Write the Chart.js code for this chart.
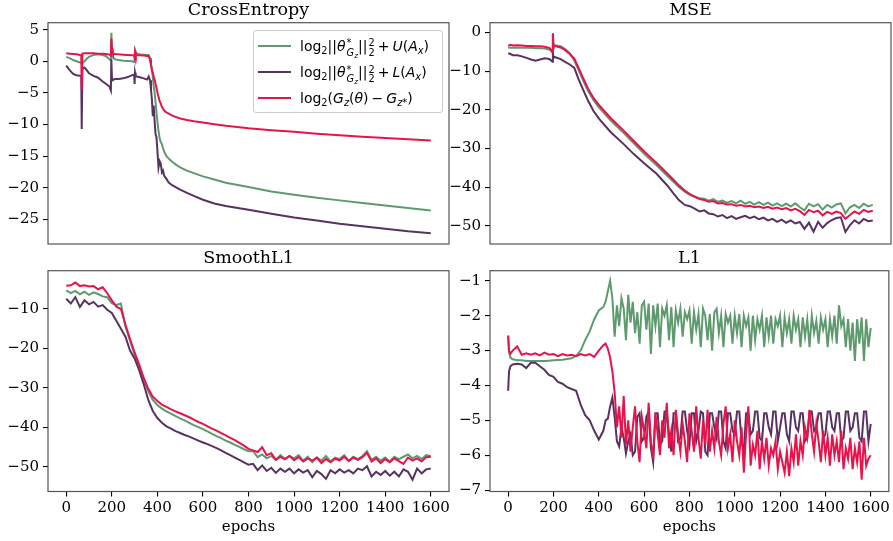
<!DOCTYPE html>
<html><head><meta charset="utf-8">
<script src="https://cdn.jsdelivr.net/npm/chart.js@4.4.1/dist/chart.umd.min.js"></script>
<style>
html,body{margin:0;padding:0;background:#fff;}
#wrap{position:relative;width:893px;height:541px;overflow:hidden;background:#fff;}
#wrap canvas{position:absolute;left:0;top:0;}
#legend{position:absolute;left:253px;top:30px;width:188px;height:81px;border:1px solid #cccccc;border-radius:3px;background:rgba(255,255,255,0.85);}
.row{position:absolute;left:0;height:20px;white-space:nowrap;}
.sw{position:absolute;left:4px;top:9px;width:33px;height:2px;}
.tx{position:absolute;left:46px;top:0;font-family:"DejaVu Sans";font-size:14px;line-height:20px;color:#000;}
.tx sub{font-size:70%;vertical-align:-0.3em;line-height:0;}
.ss{display:inline-block;vertical-align:-0.5em;font-size:70%;line-height:1;margin-left:1px;}
.ss>span{display:block;height:0.95em;}
.ss sub{font-size:75%;}
.op{margin:0 3px;}
</style>
</head><body>
<div id="wrap">
<canvas id="cCE" width="893" height="541"></canvas>
<canvas id="cMSE" width="893" height="541"></canvas>
<canvas id="cSL1" width="893" height="541"></canvas>
<canvas id="cL1" width="893" height="541"></canvas>
<div id="legend"></div>
</div>
<script>
// ---------- data ----------
const seriesNames = ['log2||θ*_Gz||²_2 + U(A_x)', 'log2||θ*_Gz||²_2 + L(A_x)', 'log2(G_z(θ) − G_z*)'];
const legendLabels = [
  'log<sub>2</sub>||<i>θ</i><span class="ss"><span>*</span><span><i>G<sub>z</sub></i></span></span>||<span class="ss"><span>2</span><span>2</span></span><span class="op">+</span><i>U</i>(<i>A<sub>x</sub></i>)',
  'log<sub>2</sub>||<i>θ</i><span class="ss"><span>*</span><span><i>G<sub>z</sub></i></span></span>||<span class="ss"><span>2</span><span>2</span></span><span class="op">+</span><i>L</i>(<i>A<sub>x</sub></i>)',
  'log<sub>2</sub>(<i>G<sub>z</sub></i>(<i>θ</i>)<span class="op">−</span><i>G<sub>z*</sub></i>)'
];
const seriesColors = ['#5e9a6e', '#583263', '#e8134a'];
const titles = ['CrossEntropy', 'MSE', 'SmoothL1', 'L1'];
const xTicks = [0, 200, 400, 600, 800, 1000, 1200, 1400, 1600];
const ceTicks = [5, 0, -5, -10, -15, -20, -25];
const mseTicks = [0, -10, -20, -30, -40, -50];
const sl1Ticks = [-10, -20, -30, -40, -50];
const l1Ticks = [-1, -2, -3, -4, -5, -6, -7];

const ceEpochs = [0,15,30,45,60,66,68,71,80,90,100,120,140,160,175,190,196,198,201,205,215,230,250,270,290,298,300,302,305,320,340,355,362,368,372,376,380,384,388,392,396,400,405,410,415,420,425,430,440,450,465,480,500,530,560,600,650,700,800,900,1000,1100,1200,1300,1400,1500,1600];
const ceU = [0.7,0.5,0.2,0.0,-0.2,-0.25,-0.3,-0.3,0.0,0.4,0.7,1.0,1.1,1.0,0.8,0.3,0.1,4.5,2.0,0.6,0.3,0.2,0.1,0.05,0.0,-0.1,0.6,1.7,1.3,1.1,1.05,1.0,1.0,0.5,-0.3,-1.2,-2.5,-4.0,-5.0,-6.5,-8.0,-9.5,-11.0,-12.2,-12.8,-13.1,-13.8,-14.3,-15.0,-15.4,-15.9,-16.3,-16.8,-17.3,-17.7,-18.2,-18.7,-19.2,-19.9,-20.6,-21.1,-21.6,-22.0,-22.4,-22.8,-23.2,-23.6];
const ceL = [-0.7,-1.4,-2.0,-2.2,-2.3,-2.3,-10.7,-1.2,-1.0,-1.4,-1.9,-2.3,-2.6,-3.2,-3.6,-4.0,-4.6,0.3,-3.0,-2.9,-2.8,-2.8,-2.7,-2.5,-2.2,-2.1,-3.6,-1.8,-2.4,-2.5,-2.7,-2.9,-2.4,-3.0,-4.5,-6.0,-8.7,-7.0,-9.5,-11.5,-12.0,-14.0,-16.8,-15.8,-16.2,-17.6,-17.3,-18.1,-18.6,-19.2,-19.6,-19.9,-20.3,-20.8,-21.3,-21.9,-22.5,-22.9,-23.5,-24.1,-24.7,-25.2,-25.7,-26.1,-26.5,-26.9,-27.2];
const ceG = [1.25,1.2,1.15,1.1,1.0,0.9,-4.5,1.2,1.25,1.25,1.25,1.25,1.2,1.2,1.15,1.05,0.9,3.6,1.6,1.2,1.15,1.1,1.05,1.0,0.95,0.9,0.6,1.5,1.0,0.95,0.9,0.85,0.8,0.2,-0.6,-1.4,-1.8,-2.4,-2.9,-3.6,-4.2,-4.9,-5.6,-6.3,-6.7,-7.2,-7.5,-7.8,-8.1,-8.3,-8.6,-8.8,-9.05,-9.3,-9.5,-9.7,-9.95,-10.2,-10.6,-10.9,-11.15,-11.45,-11.7,-11.95,-12.15,-12.35,-12.55];

const mseEpochs = [0,10,20,40,60,80,100,120,140,160,180,190,194,196,198,200,210,230,250,270,290,310,330,350,375,400,450,500,550,600,650,700,725,750,775,800,
  820,840,860,880,900,920,940,960,980,1000,1020,1040,1060,1080,1100,1120,1140,1160,1180,1200,1220,1240,1260,1280,1300,1320,1340,1360,1380,1400,1420,1440,1460,1480,1500,1520,1540,1560,1580,1600];
const mseU = [-3.9,-4.0,-4.0,-4.0,-4.0,-4.0,-4.0,-4.1,-4.1,-4.2,-4.4,-4.9,-5.2,-0.5,-3.0,-3.3,-3.4,-3.6,-4.3,-5.4,-7.3,-9.9,-12.6,-15.1,-17.6,-19.5,-22.8,-25.6,-28.6,-31.6,-34.3,-37.2,-38.6,-40.0,-41.2,-42.1,
  -42.4,-42.9,-43.0,-43.5,-43.1,-43.8,-43.5,-44.0,-43.6,-44.2,-43.5,-44.3,-43.8,-44.5,-43.9,-44.6,-44.0,-44.8,-44.2,-44.9,-44.3,-45.0,-44.2,-45.2,-46.0,-44.3,-45.0,-44.4,-45.8,-44.6,-45.3,-44.5,-44.2,-46.8,-45.2,-44.6,-45.4,-44.3,-45.0,-44.6];
const mseL = [-5.4,-5.6,-5.9,-5.9,-6.2,-6.6,-7.0,-7.3,-7.0,-6.7,-6.9,-7.3,-7.6,-5.2,-6.2,-6.3,-6.5,-6.9,-7.6,-8.3,-9.2,-12.3,-15.0,-17.6,-20.4,-22.4,-25.8,-28.5,-31.4,-34.0,-36.5,-39.7,-41.6,-43.4,-44.6,-45.0,
  -45.6,-46.3,-46.0,-46.8,-47.0,-47.6,-47.2,-48.0,-47.5,-48.2,-47.8,-47.4,-48.0,-47.6,-48.3,-47.9,-48.6,-48.2,-49.0,-48.4,-49.2,-48.6,-49.4,-49.0,-50.8,-49.2,-51.5,-49.0,-50.5,-49.3,-48.5,-48.0,-47.8,-51.6,-49.8,-48.6,-49.4,-48.2,-48.8,-48.6];
const mseG = [-3.5,-3.2,-3.4,-3.3,-3.4,-3.5,-3.5,-3.6,-3.6,-3.7,-4.0,-4.6,-5.0,-0.2,-3.0,-3.6,-3.6,-3.9,-4.6,-5.6,-6.8,-9.3,-12.0,-14.5,-17.0,-18.9,-22.2,-25.0,-28.0,-31.0,-33.7,-36.6,-38.1,-39.6,-40.9,-41.9,
  -42.6,-43.1,-43.3,-43.8,-43.6,-44.2,-44.1,-44.5,-44.4,-44.8,-44.6,-45.0,-44.8,-45.2,-45.0,-45.4,-45.1,-45.6,-45.3,-45.7,-45.4,-46.0,-45.6,-46.2,-47.2,-45.9,-46.5,-46.1,-47.3,-46.4,-46.9,-46.3,-46.7,-48.2,-47.2,-46.3,-46.9,-45.9,-46.4,-46.1];

const sl1Epochs = [0,20,40,60,80,100,120,140,160,180,200,220,240,260,280,300,320,340,360,380,400,420,440,460,480,500,520,540,560,580,600,620,640,660,680,700,720,740,760,780,800,820,840,860,880,900,920,940,960,980,1000,1020,1040,1060,1080,1100,1120,1140,1160,1180,1200,1220,1240,1260,1280,1300,1320,1340,1360,1380,1400,1420,1440,1460,1480,1500,1520,1540,1560,1580,1600];
const sl1U = [-5.3,-6.0,-5.4,-6.3,-5.6,-6.4,-5.8,-6.2,-6.8,-7.0,
  -8.5,-9.0,-8.6,-14.5,-18.0,-21.5,-24.6,-27.8,-30.8,-33.0,
  -34.3,-35.2,-35.9,-36.5,-37.1,-37.7,-38.2,-38.8,-39.4,-39.9,
  -40.4,-41.0,-41.6,-42.2,-42.7,-43.3,-43.8,-44.4,-44.9,-45.5,
  -46.0,-46.0,-47.5,-46.8,-47.8,-47.2,-48.2,-47.0,-48.0,-47.2,
  -47.8,-47.0,-48.4,-47.4,-48.8,-47.6,-48.4,-47.2,-48.6,-47.6,
  -48.0,-47.0,-48.4,-47.4,-48.0,-47.2,-46.0,-48.2,-47.4,-48.4,
  -47.6,-48.6,-47.4,-48.0,-47.4,-46.8,-47.8,-47.2,-48.0,-47.0,
  -47.2];
const sl1L = [-7.4,-8.6,-7.0,-9.5,-7.8,-8.8,-8.2,-9.4,-9.0,-10.2,
  -11.0,-13.0,-15.0,-17.0,-20.5,-22.5,-25.5,-29.0,-33.0,-35.8,
  -37.6,-38.8,-39.7,-40.3,-40.9,-41.4,-41.9,-42.3,-42.8,-43.3,
  -43.8,-44.2,-44.7,-45.2,-45.8,-46.4,-47.0,-47.6,-48.2,-48.8,
  -49.4,-49.2,-50.8,-49.6,-51.0,-50.2,-51.5,-50.4,-51.2,-50.4,
  -51.6,-50.6,-51.4,-50.8,-52.6,-51.0,-51.8,-53.0,-50.8,-51.6,
  -50.6,-51.4,-50.8,-51.6,-50.4,-50.8,-49.8,-52.4,-51.2,-52.0,
  -51.0,-52.2,-51.2,-52.4,-50.6,-51.2,-53.2,-50.4,-51.6,-50.6,
  -50.4];
const sl1G = [-4.1,-4.0,-3.3,-4.2,-4.0,-4.3,-4.2,-5.0,-4.5,-6.0,
  -7.8,-9.4,-10.0,-14.0,-17.6,-21.0,-24.0,-27.4,-30.2,-32.2,
  -33.3,-34.2,-34.8,-35.4,-35.9,-36.4,-36.9,-37.4,-38.0,-38.6,
  -39.1,-39.7,-40.3,-40.8,-41.4,-42.0,-42.6,-43.2,-43.9,-44.6,
  -45.4,-45.8,-46.2,-45.0,-47.0,-46.5,-48.2,-47.4,-48.0,-47.2,
  -48.3,-47.5,-48.6,-47.8,-48.4,-47.6,-49.0,-48.0,-48.8,-47.9,
  -48.3,-47.4,-48.5,-47.6,-48.2,-47.5,-46.4,-48.6,-47.8,-49.0,
  -48.0,-48.8,-47.8,-48.5,-49.2,-47.6,-48.4,-47.8,-48.6,-47.5,
  -47.4];

const l1Epochs = [0,4,10,20,40,60,80,100,120,140,160,180,200,220,240,260,280,300,320,340,360,380,400,420,
  430,440,450,460,470,480,490,500,510,520,530,540,550,560,570,580,590,600,610,620,630,640,650,660,670,680,690,700,710,720,
  730,740,750,760,770,780,790,800,810,820,830,840,850,860,870,880,890,900,910,920,930,940,950,960,970,980,990,1000,1010,1020,
  1030,1040,1050,1060,1070,1080,1090,1100,1110,1120,1130,1140,1150,1160,1170,1180,1190,1200,1210,1220,1230,1240,1250,1260,1270,1280,1290,1300,1310,1320,
  1330,1340,1350,1360,1370,1380,1390,1400,1410,1420,1430,1440,1450,1460,1470,1480,1490,1500,1510,1520,1530,1540,1550,1560,1570,1580,1590,1600];
const l1U = [-2.57,-3.05,-3.2,
  -3.25,-3.28,-3.28,-3.3,-3.3,-3.3,-3.3,-3.3,-3.29,-3.28,
  -3.27,-3.26,-3.24,-3.22,-3.15,-3.0,-2.7,-2.45,-2.1,-1.85,
  -1.75,
  -1.6,-1.3,-1.0,-1.5,-2.6,-1.7,-2.3,-1.5,-1.8,-2.7,
  -1.4,-2.2,-1.6,-2.5,-1.9,-2.8,-1.7,-1.6,-2.4,-1.65,
  -3.1,-1.7,-2.3,-1.65,-2.9,-1.8,-2.0,-1.7,-2.7,-1.75,
  -2.9,-1.85,-2.2,-1.8,-2.6,-1.9,-2.1,-1.85,-2.8,-1.9,
  -2.4,-1.95,-2.9,-1.8,-2.0,-2.7,-1.95,-3.0,-1.9,-1.8,
  -2.5,-2.0,-2.9,-1.95,-2.2,-2.0,-2.8,-2.0,-2.5,-1.95,
  -2.9,-2.0,-2.3,-2.05,-3.0,-2.0,-2.7,-2.1,-2.4,-2.0,
  -2.9,-2.05,-2.6,-2.0,-2.8,-2.1,-2.3,-2.0,-2.9,-2.05,
  -2.5,-2.1,-2.8,-2.0,-2.4,-2.1,-2.9,-2.05,-2.6,-2.1,
  -2.9,-2.0,-2.5,-2.15,-2.8,-2.05,-2.4,-2.1,-2.9,-2.1,
  -2.6,-2.0,-2.8,-1.7,-2.3,-2.1,-2.9,-2.1,-3.0,-2.2,
  -3.3,-2.1,-2.8,-2.05,-3.3,-2.1,-2.9,-2.35];
const l1L = [-4.15,-3.6,-3.45,
  -3.4,-3.38,-3.4,-3.5,-3.35,-3.35,-3.45,-3.55,-3.7,-3.75,
  -3.9,-3.95,-4.05,-4.1,-4.15,-4.55,-4.85,-5.0,-5.3,-5.55,
  -5.3,
  -5.0,-4.95,-4.6,-4.35,-4.9,-5.6,-5.75,-5.2,-5.5,-5.95,
  -5.6,-5.4,-6.0,-5.9,-4.9,-4.8,-5.6,-5.5,-4.9,-4.75,
  -5.8,-6.2,-4.8,-4.8,-5.7,-5.6,-4.75,-4.75,-5.4,-5.9,
  -4.8,-4.8,-5.6,-5.5,-4.75,-4.75,-5.3,-5.7,-4.8,-4.8,
  -5.6,-5.3,-4.75,-4.8,-5.9,-6.0,-4.8,-4.8,-5.2,-5.5,
  -4.75,-4.75,-5.6,-5.8,-4.8,-4.8,-5.3,-5.4,-4.75,-4.75,
  -5.6,-5.9,-4.8,-4.8,-5.4,-5.3,-4.75,-4.75,-5.5,-5.6,
  -4.8,-4.8,-5.2,-5.4,-4.75,-4.75,-5.6,-5.2,-4.8,-4.8,
  -5.4,-5.6,-4.75,-4.75,-5.2,-5.3,-4.8,-4.8,-5.6,-5.5,
  -4.75,-4.75,-5.3,-5.2,-4.8,-4.8,-5.5,-5.4,-4.75,-4.75,
  -5.2,-5.3,-4.8,-4.8,-5.6,-5.5,-4.75,-4.75,-5.3,-5.2,
  -4.8,-4.8,-5.5,-5.6,-4.75,-4.75,-5.6,-5.1];
const l1G = [-2.57,-3.0,-3.09,
  -3.0,-2.88,-3.12,-3.08,-3.12,-3.08,-3.14,-3.06,-3.12,-3.1,
  -3.16,-3.1,-3.14,-3.12,-3.16,-3.1,-3.14,-3.1,-3.18,-3.0,
  -2.85,
  -2.8,-2.95,-3.2,-3.6,-4.2,-5.2,-4.6,-5.5,-4.3,-5.7,
  -5.0,-5.9,-5.2,-4.6,-5.6,-6.2,-4.9,-5.3,-5.8,-4.5,
  -5.6,-6.1,-4.8,-5.4,-6.0,-5.0,-5.5,-4.5,-5.8,-5.3,
  -6.0,-4.7,-5.4,-5.9,-5.1,-5.6,-6.2,-4.8,-5.3,-5.9,
  -4.6,-5.5,-6.1,-5.0,-5.7,-4.7,-5.9,-5.3,-5.8,-4.9,
  -5.6,-6.0,-5.1,-4.6,-5.8,-5.4,-6.2,-5.0,-5.6,-6.0,
  -5.2,-6.5,-5.4,-4.6,-6.3,-5.7,-6.0,-5.3,-6.4,-5.6,
  -6.1,-5.5,-6.3,-5.8,-6.0,-5.6,-6.4,-5.9,-6.2,-6.5,
  -5.9,-6.6,-5.8,-6.2,-5.4,-6.3,-5.6,-6.0,-5.2,-5.5,
  -4.7,-5.4,-5.9,-5.1,-5.6,-6.2,-5.3,-6.0,-5.5,-6.3,
  -5.4,-6.0,-5.6,-6.2,-5.3,-6.4,-5.8,-6.1,-5.5,-6.4,
  -5.8,-6.2,-5.6,-6.7,-5.5,-6.3,-6.1,-6.0];

// ---------- drawing ----------
const PAGE_W = 893, PAGE_H = 541;
const TICK_FONT = {family: 'DejaVu Serif', size: 15, weight: 'normal'};
const TITLE_FONT = {family: 'DejaVu Serif', size: 17.5, weight: 'normal', lineHeight: 1.15};

function fmtY(v) { return v < 0 ? '\u2212' + Math.abs(v) : String(v); }
function fmtX(v) { return String(v); }

const framePlugin = {
  id: 'frame',
  afterDatasetsDraw(chart) {
    const a = chart.chartArea, ctx = chart.ctx;
    ctx.save();
    ctx.strokeStyle = '#555555';
    ctx.lineWidth = 1.2;
    ctx.strokeRect(a.left, a.top, a.right - a.left, a.bottom - a.top);
    ctx.restore();
  }
};

function makeChart(id, title, area, xs, ys, yMin, yMax, yTicks, showX) {
  const datasets = ys.map((arr, i) => ({
    label: seriesNames[i],
    data: xs.map((x, j) => ({x: x, y: arr[j]})),
    borderColor: seriesColors[i],
    backgroundColor: seriesColors[i],
    borderWidth: 2,
    pointRadius: 0,
    tension: 0,
    fill: false,
    order: 2 - i
  }));
  return new Chart(document.getElementById(id), {
    type: 'line',
    data: {datasets},
    plugins: [framePlugin],
    options: {
      responsive: false,
      animation: false,
      events: [],
      layout: {padding: {left: 0, top: 0, right: PAGE_W - area.right, bottom: 0}},
      plugins: {
        legend: {display: false},
        tooltip: {enabled: false},
        title: {
          display: true, text: title, fullSize: false, color: '#000',
          font: TITLE_FONT,
          padding: {top: area.top - 20.125 - 2.3, bottom: 2.3}
        }
      },
      scales: {
        x: {
          type: 'linear', min: -80, max: 1680,
          afterBuildTicks: s => { s.ticks = xTicks.map(v => ({value: v})); },
          afterFit: s => { s.height = PAGE_H - area.bottom; },
          grid: {drawOnChartArea: false, drawTicks: showX, tickLength: 5, color: '#000', lineWidth: 1.1},
          border: {display: false},
          ticks: {display: showX, padding: 3, color: '#000', font: TICK_FONT, maxRotation: 0, autoSkip: false, callback: fmtX},
          title: {display: showX, text: 'epochs', color: '#000', font: TICK_FONT, padding: {top: 0, bottom: 5.2}}
        },
        y: {
          type: 'linear', min: yMin, max: yMax,
          afterBuildTicks: s => { s.ticks = yTicks.map(v => ({value: v})); },
          afterFit: s => { s.width = area.left; },
          grid: {drawOnChartArea: false, drawTicks: true, tickLength: 5, color: '#000', lineWidth: 1.1},
          border: {display: false},
          ticks: {padding: 4, color: '#000', font: TICK_FONT, callback: fmtY, autoSkip: false}
        }
      }
    }
  });
}

makeChart('cCE', titles[0], {left: 48, right: 449, top: 22.7, bottom: 244}, ceEpochs, [ceU, ceL, ceG], -28.9, 6.1, ceTicks, false);
makeChart('cMSE', titles[1], {left: 490, right: 891, top: 22.7, bottom: 244}, mseEpochs, [mseU, mseL, mseG], -54.7, 2.5, mseTicks, false);
makeChart('cSL1', titles[2], {left: 48, right: 449, top: 270.7, bottom: 491.5}, sl1Epochs, [sl1U, sl1L, sl1G], -56.2, -0.3, sl1Ticks, true);
makeChart('cL1', titles[3], {left: 490, right: 891, top: 270.7, bottom: 491.5}, l1Epochs, [l1U, l1L, l1G], -7.04, -0.71, l1Ticks, true);

// HTML legend (math labels) built from the series arrays
const legendBox = document.getElementById('legend');
const rowTops = [4.7, 31.3, 56.7];
legendLabels.forEach((html, i) => {
  const row = document.createElement('div');
  row.className = 'row';
  row.style.top = rowTops[i] + 'px';
  row.innerHTML = '<span class="sw" style="background:' + seriesColors[i] + '"></span><span class="tx">' + html + '</span>';
  legendBox.appendChild(row);
});
</script>
</body></html>
